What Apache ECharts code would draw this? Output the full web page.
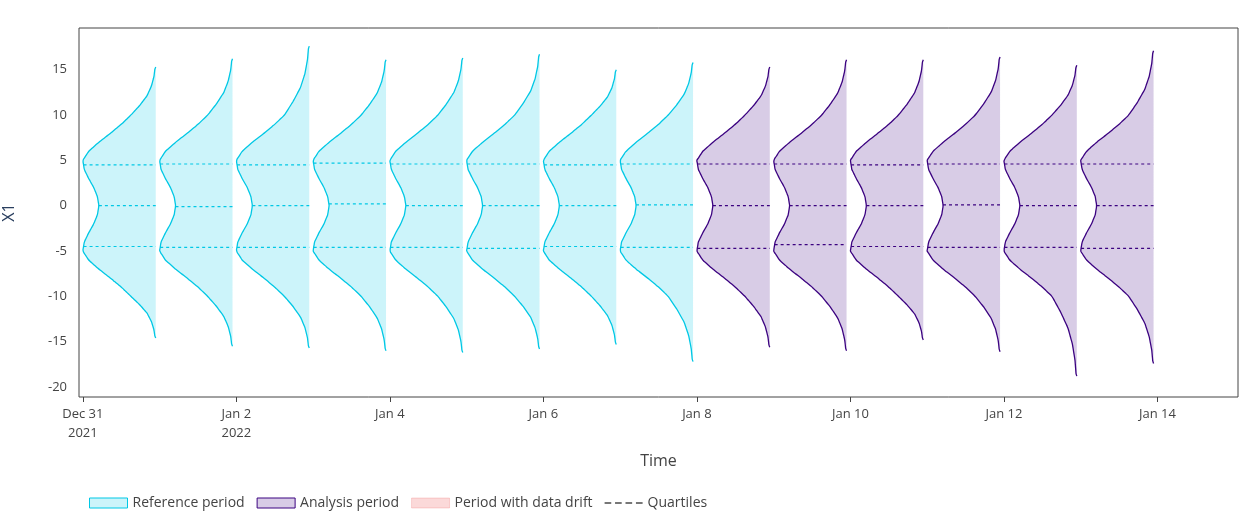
<!DOCTYPE html>
<html>
<head>
<meta charset="utf-8">
<script src="https://cdn.jsdelivr.net/npm/echarts@6/dist/echarts.min.js"></script>
<style>html,body{margin:0;padding:0;background:#fff}#main{width:1260px;height:526px}</style>
</head>
<body>
<div id="main"></div>
<script>
(function () {
  // 每天一个半小提琴: [day, min, q1, median, q3, max, period]
  let data = [
    [0, -14.6, -4.5, 0.0, 4.5, 15.3, 0],
    [1, -15.5, -4.6, -0.1, 4.6, 16.2, 0],
    [2, -15.7, -4.6, 0.0, 4.5, 17.6, 0],
    [3, -16.0, -4.6, 0.2, 4.7, 16.1, 0],
    [4, -16.2, -4.6, 0.0, 4.6, 16.3, 0],
    [5, -15.8, -4.7, 0.0, 4.6, 16.7, 0],
    [6, -15.3, -4.5, 0.0, 4.5, 15.0, 0],
    [7, -17.2, -4.6, 0.1, 4.6, 15.8, 0],
    [8, -15.6, -4.7, 0.0, 4.6, 15.3, 1],
    [9, -16.0, -4.3, 0.0, 4.6, 16.1, 1],
    [10, -14.8, -4.5, 0.0, 4.5, 16.1, 1],
    [11, -16.1, -4.6, 0.1, 4.6, 16.4, 1],
    [12, -18.8, -4.6, 0.0, 4.6, 15.5, 1],
    [13, -17.4, -4.7, 0.0, 4.6, 17.1, 1],
  ];
  // 密度轮廓: y -> 相对宽度
  let profile = [
    [0, 0.78], [1, 0.8], [2, 0.85], [3, 0.92], [4, 0.98], [5, 1.0], [6, 0.92],
    [7, 0.78], [8, 0.62], [9, 0.47], [10, 0.34], [11, 0.22], [12, 0.12],
    [13, 0.06], [14, 0.025], [15, 0.008],
  ];
  let colors = [
    { line: "#00c8e5", fill: "rgba(0,200,229,0.2)" },
    { line: "#3b0280", fill: "rgba(59,2,128,0.2)" },
  ];
  let W = 0.95;

  function widthAt(a) {
    a = Math.abs(a);
    for (let i = 0; i < profile.length - 1; i++) {
      if (a >= profile[i][0] && a <= profile[i + 1][0]) {
        let t = (a - profile[i][0]) / (profile[i + 1][0] - profile[i][0]);
        return profile[i][1] + t * (profile[i + 1][1] - profile[i][1]);
      }
    }
    return 0.008;
  }
  // 尾部拉伸: |y|>10 映射到 10..max
  function shape(y, lo, hi) {
    if (y > 10) return widthAt(10 + (y - 10) / (hi - 10) * 5);
    if (y < -10) return widthAt(10 + (-y - 10) / (-lo - 10) * 5);
    return widthAt(y);
  }

  function renderItem(params, api) {
    let d = api.value(0), lo = api.value(1), hi = api.value(5);
    let c = colors[api.value(6)];
    let right = d + W;
    let curve = [];
    let n = 120;
    for (let i = 0; i <= n; i++) {
      let y = hi - (hi - lo) * i / n;
      let w = (i === 0 || i === n) ? 0 : shape(y, lo, hi);
      curve.push(api.coord([right - w * W, y]));
    }
    let poly = curve.concat([api.coord([right, lo]), api.coord([right, hi])]);
    let children = [
      { type: "polygon", shape: { points: poly, smooth: 0 }, style: { fill: c.fill, stroke: null } },
      { type: "polyline", shape: { points: curve, smooth: 0.3 }, style: { stroke: c.line, lineWidth: 1.3, fill: null } },
    ];
    [2, 3, 4].forEach(function (k) {
      let q = api.value(k);
      let p1 = api.coord([right - shape(q, lo, hi) * W, q]);
      let p2 = api.coord([right, q]);
      children.push({
        type: "line",
        shape: { x1: p1[0], y1: p1[1], x2: p2[0], y2: p2[1] },
        style: { stroke: c.line, lineWidth: 1.2, lineDash: [3, 3] },
      });
    });
    return { type: "group", children: children };
  }

  let labels = { 0: "Dec 31\n2021", 2: "Jan 2\n2022", 4: "Jan 4", 6: "Jan 6", 8: "Jan 8", 10: "Jan 10", 12: "Jan 12", 14: "Jan 14" };
  let font = "'Open Sans', sans-serif";
  let dash = "path://M0,0L7,0L7,2L0,2ZM11,0L18,0L18,2L11,2ZM22,0L29,0L29,2L22,2ZM33,0L40,0L40,2L33,2Z";

  let option = {
    animation: false,
    textStyle: { fontFamily: font },
    grid: {
      left: 79, right: 22, top: 28, bottom: 129, containLabel: false, outerBoundsMode: "none",
      show: true, borderColor: "#444", borderWidth: 1,
    },
    xAxis: {
      type: "value",
      min: -0.05,
      max: 15.05,
      name: "Time",
      nameLocation: "middle",
      nameGap: 56,
      nameTextStyle: { color: "#444", fontSize: 16, fontFamily: font },
      axisLine: { show: false, onZero: false },
      splitLine: { show: false },
      axisTick: { show: true, length: 5, lineStyle: { color: "#444" }, customValues: [0, 2, 4, 6, 8, 10, 12, 14] },
      axisLabel: {
        color: "#444", fontSize: 13, lineHeight: 19, fontFamily: font,
        customValues: [0, 2, 4, 6, 8, 10, 12, 14],
        formatter: function (v) { return labels[Math.round(v)] || ""; },
      },
    },
    yAxis: {
      type: "value",
      min: -21.1,
      max: 19.6,
      name: "X1",
      nameLocation: "middle",
      nameGap: 62,
      nameTextStyle: { color: "#2a3f5f", fontSize: 16, fontFamily: font },
      axisLine: { show: false, onZero: false },
      axisTick: { show: false },
      splitLine: { show: false },
      axisLabel: {
        color: "#444", fontSize: 13, margin: 12, fontFamily: font,
        customValues: [-20, -15, -10, -5, 0, 5, 10, 15],
      },
    },
    legend: {
      left: 84,
      bottom: 11,
      itemWidth: 38,
      itemHeight: 10,
      itemGap: 12,
      textStyle: { color: "#444", fontSize: 14, fontFamily: font },
      data: [
        { name: "Reference period", icon: "rect", itemStyle: { color: "rgba(0,200,229,0.2)", borderColor: "#00c8e5", borderWidth: 1 } },
        { name: "Analysis period", icon: "rect", itemStyle: { color: "rgba(59,2,128,0.2)", borderColor: "#3b0280", borderWidth: 1 } },
        { name: "Period with data drift", icon: "rect", itemStyle: { color: "rgba(229,0,0,0.15)", borderColor: "rgba(229,0,0,0.15)", borderWidth: 1 } },
        { name: "Quartiles", icon: dash, itemHeight: 2, itemStyle: { color: "#777", borderWidth: 0 } },
      ],
    },
    series: [
      { type: "custom", renderItem: renderItem, data: data, encode: { x: 0, y: [1, 5] }, silent: true },
      { name: "Reference period", type: "line", data: [], itemStyle: { color: "rgba(0,200,229,0.2)" } },
      { name: "Analysis period", type: "line", data: [], itemStyle: { color: "rgba(59,2,128,0.2)" } },
      { name: "Period with data drift", type: "line", data: [], itemStyle: { color: "rgba(229,0,0,0.15)" } },
      { name: "Quartiles", type: "line", data: [], symbol: "none", lineStyle: { color: "#777", type: [4, 3], width: 1.3 }, itemStyle: { color: "#777" } },
    ],
  };
  let mychart = echarts.init(document.getElementById("main"));
  mychart.setOption(option);
})();
</script>
</body>
</html>
